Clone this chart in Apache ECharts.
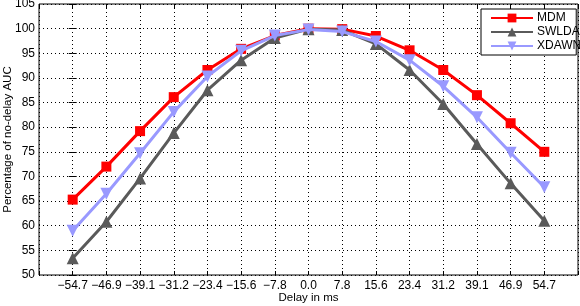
<!DOCTYPE html>
<html>
<head>
<meta charset="utf-8">
<script src="https://cdn.jsdelivr.net/npm/echarts@6/dist/echarts.min.js"></script>
<style>html,body{margin:0;padding:0;background:#fff}#c{width:580px;height:306px}</style>
</head>
<body>
<div id="c"></div>
<script>
var delayLabels = ['\u221254.7','\u221246.9','\u221239.1','\u221231.2','\u221223.4','\u221215.6','\u22127.8','0.0','7.8','15.6','23.4','31.2','39.1','46.9','54.7'];
var mdm   = [65.3, 72.0, 79.2, 86.1, 91.6, 95.9, 98.6, 100.0, 99.9, 98.5, 95.6, 91.6, 86.5, 80.8, 75.0];
var swlda = [53.4, 60.8, 69.6, 78.8, 87.5, 93.6, 98.1, 99.9, 99.7, 96.9, 91.6, 84.7, 76.6, 68.6, 61.0];
var xdawn = [59.0, 66.5, 74.7, 83.1, 90.3, 95.5, 98.6, 99.8, 99.4, 97.4, 93.6, 88.3, 82.0, 74.8, 67.8];
var yTicks = [50, 55, 60, 65, 70, 75, 80, 85, 90, 95, 100, 105];

function pts(arr){ return arr.map(function(v,i){ return [i, v]; }); }
var font = 'Liberation Sans, Arial, sans-serif';
var chart = echarts.init(document.getElementById('c'), null, {renderer:'canvas'});
chart.setOption({
  animation: false,
  backgroundColor: '#fff',
  textStyle: {fontFamily: font},
  grid: {left: 39, right: 2, top: 4, bottom: 31, show: true, borderColor: '#000', borderWidth: 1,
         containLabel: false, outerBoundsMode: 'none'},
  legend: {
    orient: 'vertical', left: 481, top: 9,
    backgroundColor: '#fff', borderColor: '#000', borderWidth: 1,
    padding: [3, -5, 3, 9], itemGap: 2, itemWidth: 42, itemHeight: 11,
    textStyle: {fontFamily: font, fontSize: 12, color: '#000', padding: [0,0,0,-1]},
    data: ['MDM', 'SWLDA', 'XDAWN']
  },
  xAxis: [{
    type: 'value', min: -1, max: 15, interval: 1,
    name: 'Delay in ms', nameLocation: 'middle', nameGap: 17, nameMoveOverlap: false,
    nameTextStyle: {fontFamily: font, fontSize: 11.5, color: '#000'},
    axisLine: {show: false},
    axisTick: {show: true, inside: true, length: 4, lineStyle: {color: '#000'}},
    axisLabel: {fontFamily: font, fontSize: 12, color: '#000', margin: 5,
      formatter: function(v){ return (v >= 0 && v < delayLabels.length) ? delayLabels[v] : ''; }},
    splitLine: {show: true, lineStyle: {color: '#000', type: [1, 3], width: 1}}
  }, {
    type: 'value', min: -1, max: 15, interval: 1, position: 'top',
    axisLine: {show: false}, axisLabel: {show: false}, splitLine: {show: false},
    axisTick: {show: true, inside: true, length: 4, lineStyle: {color: '#000'}}
  }],
  yAxis: [{
    type: 'value', min: 50, max: 105, interval: 5,
    name: 'Percentage of no-delay AUC', nameLocation: 'middle', nameGap: 25, nameMoveOverlap: false,
    nameTextStyle: {fontFamily: font, fontSize: 11.5, color: '#000'},
    axisLine: {show: false},
    axisTick: {show: true, inside: true, length: 4, lineStyle: {color: '#000'}},
    axisLabel: {fontFamily: font, fontSize: 12, color: '#000', margin: 4},
    splitLine: {show: true, lineStyle: {color: '#000', type: [1, 3], width: 1}}
  }, {
    type: 'value', min: 50, max: 105, interval: 5, position: 'right',
    axisLine: {show: false}, axisLabel: {show: false}, splitLine: {show: false},
    axisTick: {show: true, inside: true, length: 4, lineStyle: {color: '#000'}}
  }],
  series: [{
    name: 'MDM', type: 'line', data: pts(mdm), symbol: 'rect', symbolSize: 10,
    color: '#ff0000', lineStyle: {width: 3, color: '#ff0000'}, itemStyle: {color: '#ff0000'}, z: 2
  }, {
    name: 'SWLDA', type: 'line', data: pts(swlda), symbol: 'triangle', symbolSize: 12,
    color: '#5a5a5a', lineStyle: {width: 3, color: '#5a5a5a'}, itemStyle: {color: '#5a5a5a'}, z: 3
  }, {
    name: 'XDAWN', type: 'line', data: pts(xdawn), symbol: 'triangle', symbolRotate: 180, symbolSize: 12,
    color: '#9999ff', lineStyle: {width: 3, color: '#9999ff'}, itemStyle: {color: '#9999ff'}, z: 4
  }]
});
</script>
</body>
</html>
